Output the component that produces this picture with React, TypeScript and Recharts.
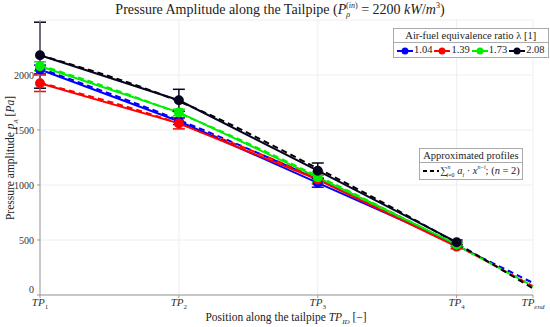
import React from "react";
import {
  LineChart,
  Line,
  XAxis,
  YAxis,
  CartesianGrid,
  ErrorBar,
} from "recharts";

// positions along the tailpipe (TP1..TP4, TPend)
const positions = [0, 1, 2, 3, 3.55];
const tickNames = ["1", "2", "3", "4", "end"];
const yTicks = [0, 500, 1000, 1500, 2000];

// measured amplitudes [Pa] at TP1..TP4
const p104 = [2050, 1580, 1020, 460];
const p139 = [1925, 1560, 1050, 440];
const p173 = [2080, 1660, 1070, 460];
const p208 = [2180, 1770, 1130, 480];

// error bar half widths
const e104 = [40, 30, 40, 20];
const e139 = [75, 50, 40, 20];
const e173 = [40, 30, 50, 20];
const e208 = [300, 100, 70, 20];

// approximated (fitted) profiles at TP1..TPend
const f104 = [2060, 1590, 1050, 450, 110];
const f139 = [1930, 1560, 1060, 450, 80];
const f173 = [2090, 1650, 1080, 450, 80];
const f208 = [2180, 1760, 1150, 470, 60];

const series = [
  { key: "l104", label: "1.04", color: "#0000ff", vals: p104, errs: e104, fit: f104 },
  { key: "l139", label: "1.39", color: "#ff0000", vals: p139, errs: e139, fit: f139 },
  { key: "l173", label: "1.73", color: "#00ee00", vals: p173, errs: e173, fit: f173 },
  { key: "l208", label: "2.08", color: "#05051f", vals: p208, errs: e208, fit: f208 },
];

const data = positions.map((x, i) => {
  const row: any = { x };
  series.forEach((s) => {
    if (i < s.vals.length) {
      row[s.key] = s.vals[i];
      row[s.key + "_err"] = s.errs[i];
    }
    row[s.key + "_fit"] = s.fit[i];
  });
  return row;
});

const font = "'Liberation Serif', 'DejaVu Serif', serif";

const XTick = (props: any) => {
  const { x, y, payload } = props;
  const idx = positions.indexOf(payload.value);
  return (
    <text x={x} y={y + 6} textAnchor="middle" fontFamily={font} fontSize={11} fill="#333">
      <tspan fontStyle="italic">TP</tspan>
      <tspan fontSize={7} dy={3} fontStyle={idx === 4 ? "italic" : "normal"}>
        {tickNames[idx]}
      </tspan>
    </text>
  );
};

const YTick = (props: any) => {
  const { x, y, payload } = props;
  // lift the zero label a bit so it clears TP1
  const dy = payload.value === 0 ? -2 : 3.5;
  return (
    <text x={x - 1} y={y + dy} textAnchor="end" fontFamily={font} fontSize={10} fill="#333">
      {payload.value}
    </text>
  );
};

const LegendMark = ({ color, dashed }: { color: string; dashed?: boolean }) => (
  <svg width={18} height={10} style={{ verticalAlign: "middle" }}>
    <line
      x1={1}
      y1={5}
      x2={17}
      y2={5}
      stroke={color}
      strokeWidth={2}
      strokeDasharray={dashed ? "4 3" : undefined}
    />
    {!dashed && <circle cx={9} cy={5} r={3.5} fill={color} />}
  </svg>
);

export default function App() {
  return (
    <div style={{ position: "relative", width: 550, height: 327, background: "#fff", fontFamily: font }}>
      <style>{`body{margin:0}`}</style>
      <LineChart
        width={550}
        height={327}
        data={data}
        margin={{ top: 20, right: 17, bottom: 12, left: 0 }}
      >
        <CartesianGrid stroke="#eeeeee" strokeWidth={1} />
        <XAxis
          dataKey="x"
          type="number"
          domain={[0, 3.55]}
          ticks={positions}
          tick={<XTick />}
          stroke="#999"
          tickSize={3}
          height={20}
        />
        <YAxis
          type="number"
          domain={[0, 2500]}
          ticks={yTicks}
          width={40}
          stroke="#999"
          tickSize={3}
          tick={<YTick />}
        />
        {series.map((s) => (
          <Line
            key={s.key + "_fit"}
            dataKey={s.key + "_fit"}
            stroke={s.key === "l208" ? "#000" : s.color}
            strokeWidth={2}
            strokeDasharray="6 4"
            dot={false}
            type="monotone"
            isAnimationActive={false}
          />
        ))}
        {series.map((s) => (
          <Line
            key={s.key}
            dataKey={s.key}
            stroke={s.color}
            strokeWidth={2}
            dot={{ r: 4, fill: s.color, stroke: s.color }}
            isAnimationActive={false}
          >
            <ErrorBar dataKey={s.key + "_err"} width={6} stroke={s.color} strokeWidth={1.5} direction="y" />
          </Line>
        ))}
      </LineChart>

      {/* title */}
      <div
        style={{
          position: "absolute",
          top: 1,
          left: 0,
          width: 560,
          textAlign: "center",
          fontSize: 14,
          color: "#222",
          whiteSpace: "nowrap",
        }}
      >
        Pressure Amplitude along the Tailpipe (<i>P</i>
        <sub style={{ fontSize: 8 }}>
          <i>ρ</i>
        </sub>
        <sup style={{ fontSize: 8, marginLeft: -4 }}>
          (<i>in</i>)
        </sup>{" "}
        = 2200 <i>kW</i>/<i>m</i>
        <sup style={{ fontSize: 8 }}>3</sup>)
      </div>

      {/* y label */}
      <div
        style={{
          position: "absolute",
          left: 12,
          top: 158,
          transform: "translate(-50%, -50%) rotate(-90deg)",
          fontSize: 11.5,
          color: "#222",
          whiteSpace: "nowrap",
        }}
      >
        Pressure amplitude <i>p</i>
        <sub style={{ fontSize: 7 }}>
          <i>A</i>
        </sub>{" "}
        [<i>Pa</i>]
      </div>

      {/* x label */}
      <div
        style={{
          position: "absolute",
          left: 286,
          top: 311,
          transform: "translateX(-50%)",
          fontSize: 11.5,
          lineHeight: "13px",
          color: "#222",
          whiteSpace: "nowrap",
        }}
      >
        Position along the tailpipe <i>TP</i>
        <sub style={{ fontSize: 7, lineHeight: 0 }}>
          <i>ID</i>
        </sub>{" "}
        [−]
      </div>

      {/* series legend */}
      <div
        style={{
          position: "absolute",
          left: 393,
          top: 28,
          border: "1px solid #aaa",
          background: "#fff",
          fontSize: 10.5,
          color: "#222",
          whiteSpace: "nowrap",
        }}
      >
        <div style={{ textAlign: "center", borderBottom: "1px solid #aaa", padding: "1px 3px" }}>
          Air-fuel equivalence ratio λ [1]
        </div>
        <div style={{ padding: "1px 2px" }}>
          {series.map((s) => (
            <span key={s.key} style={{ marginRight: 1 }}>
              <LegendMark color={s.color} />
              {s.label}
            </span>
          ))}
        </div>
      </div>

      {/* fit legend */}
      <div
        style={{
          position: "absolute",
          left: 419,
          top: 148,
          border: "1px solid #aaa",
          background: "#fff",
          fontSize: 10.5,
          color: "#222",
          whiteSpace: "nowrap",
        }}
      >
        <div style={{ textAlign: "center", borderBottom: "1px solid #aaa", padding: "1px 3px" }}>
          Approximated profiles
        </div>
        <div style={{ padding: "1px 2px" }}>
          <LegendMark color="#000" dashed />
          ∑
          <sup style={{ fontSize: 6 }}>
            <i>n</i>
          </sup>
          <sub style={{ fontSize: 6, marginLeft: -4 }}>
            <i>i</i>=0
          </sub>{" "}
          <i>a</i>
          <sub style={{ fontSize: 6 }}>
            <i>i</i>
          </sub>{" "}
          · <i>x</i>
          <sup style={{ fontSize: 6 }}>
            <i>n</i>−<i>i</i>
          </sup>
          ; (<i>n</i> = 2)
        </div>
      </div>
    </div>
  );
}
